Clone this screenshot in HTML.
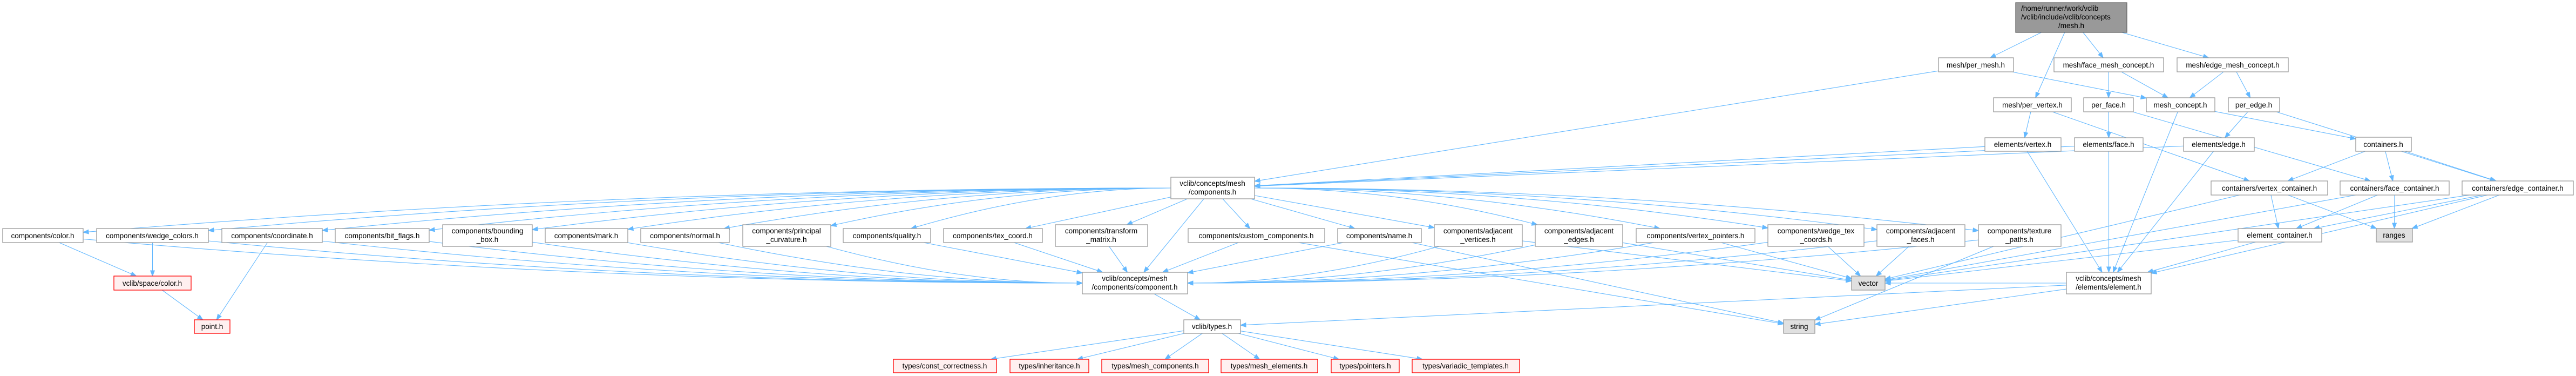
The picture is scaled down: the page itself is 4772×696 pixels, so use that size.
<!DOCTYPE html>
<html><head><meta charset="utf-8"><style>
html,body{margin:0;padding:0;background:#fff;}
svg{display:block;}
text{font-family:"Liberation Sans",sans-serif;font-size:13.5px;fill:#000;}
.n{fill:#fff;stroke:#999;stroke-width:1.3;}
.r{fill:#fff0f0;stroke:#f00;stroke-width:1.3;}
.g{fill:#e0e0e0;stroke:#999;stroke-width:1.3;}
.t{fill:#999;stroke:#666;stroke-width:1.3;}
</style></head><body>
<svg id="s" width="4772" height="696" viewBox="0 0 4772 696" xmlns="http://www.w3.org/2000/svg">
<g id="edges"></g>
<g text-anchor="middle">
<rect class="t" x="3734" y="5" width="206" height="55"/>
<text x="3744" y="20" text-anchor="start">/home/runner/work/vclib</text>
<text x="3744" y="36" text-anchor="start">/vclib/include/vclib/concepts</text>
<text x="3837" y="52">/mesh.h</text>

<rect class="n" x="3591" y="107" width="139" height="26"/><text x="3660" y="125">mesh/per_mesh.h</text>
<rect class="n" x="3805" y="107" width="203" height="26"/><text x="3906" y="125">mesh/face_mesh_concept.h</text>
<rect class="n" x="4033" y="107" width="206" height="26"/><text x="4136" y="125">mesh/edge_mesh_concept.h</text>
<rect class="n" x="3693" y="181" width="144" height="26"/><text x="3765" y="199">mesh/per_vertex.h</text>
<rect class="n" x="3860" y="181" width="92" height="26"/><text x="3906" y="199">per_face.h</text>
<rect class="n" x="3976" y="181" width="127" height="26"/><text x="4039" y="199">mesh_concept.h</text>
<rect class="n" x="4128" y="181" width="95" height="26"/><text x="4175" y="199">per_edge.h</text>
<rect class="n" x="3677" y="255" width="141" height="25"/><text x="3747" y="272">elements/vertex.h</text>
<rect class="n" x="3843" y="255" width="127" height="25"/><text x="3906" y="272">elements/face.h</text>
<rect class="n" x="4045" y="255" width="131" height="25"/><text x="4110" y="272">elements/edge.h</text>
<rect class="n" x="4364" y="254" width="103" height="26"/><text x="4415" y="272">containers.h</text>
<rect class="n" x="4096" y="335" width="216" height="26"/><text x="4204" y="353">containers/vertex_container.h</text>
<rect class="n" x="4335" y="335" width="202" height="26"/><text x="4436" y="353">containers/face_container.h</text>
<rect class="n" x="4561" y="335" width="206" height="26"/><text x="4664" y="353">containers/edge_container.h</text>
<rect class="n" x="4146" y="423" width="155" height="25"/><text x="4223" y="440">element_container.h</text>
<rect class="g" x="4402" y="423" width="67" height="25"/><text x="4435" y="440">ranges</text>
<rect class="n" x="3828" y="504" width="157" height="40"/><text x="3906" y="520">vclib/concepts/mesh</text><text x="3906" y="536">/elements/element.h</text>
<rect class="g" x="3430" y="511" width="62" height="26"/><text x="3461" y="529">vector</text>
<rect class="g" x="3304" y="592" width="58" height="25"/><text x="3333" y="609">string</text>
<rect class="n" x="2169" y="328" width="155" height="40"/><text x="2246" y="344">vclib/concepts/mesh</text><text x="2246" y="360">/components.h</text>
<rect class="n" x="2005" y="504" width="195" height="40"/><text x="2102" y="520">vclib/concepts/mesh</text><text x="2102" y="536">/components/component.h</text>
<rect class="n" x="2193" y="592" width="105" height="25"/><text x="2245" y="609">vclib/types.h</text>

<rect class="r" x="1655" y="665" width="191" height="25"/><text x="1750" y="682">types/const_correctness.h</text>
<rect class="r" x="1871" y="665" width="146" height="25"/><text x="1944" y="682">types/inheritance.h</text>
<rect class="r" x="2041" y="665" width="198" height="25"/><text x="2140" y="682">types/mesh_components.h</text>
<rect class="r" x="2262" y="665" width="179" height="25"/><text x="2351" y="682">types/mesh_elements.h</text>
<rect class="r" x="2466" y="665" width="126" height="25"/><text x="2529" y="682">types/pointers.h</text>
<rect class="r" x="2616" y="665" width="199" height="25"/><text x="2715" y="682">types/variadic_templates.h</text>
<rect class="r" x="211" y="511" width="143" height="26"/><text x="282" y="529">vclib/space/color.h</text>
<rect class="r" x="360" y="592" width="66" height="25"/><text x="393" y="609">point.h</text>

<rect class="n" x="5" y="423" width="149" height="26"/><text x="79" y="441">components/color.h</text>
<rect class="n" x="179" y="423" width="207" height="26"/><text x="282" y="441">components/wedge_colors.h</text>
<rect class="n" x="411" y="423" width="186" height="26"/><text x="504" y="441">components/coordinate.h</text>
<rect class="n" x="621" y="423" width="174" height="26"/><text x="708" y="441">components/bit_flags.h</text>
<rect class="n" x="820" y="416" width="166" height="40"/><text x="903" y="432">components/bounding</text><text x="903" y="448">_box.h</text>
<rect class="n" x="1010" y="423" width="153" height="26"/><text x="1086" y="441">components/mark.h</text>
<rect class="n" x="1187" y="423" width="164" height="26"/><text x="1269" y="441">components/normal.h</text>
<rect class="n" x="1376" y="416" width="163" height="40"/><text x="1457" y="432">components/principal</text><text x="1457" y="448">_curvature.h</text>
<rect class="n" x="1562" y="423" width="162" height="26"/><text x="1643" y="441">components/quality.h</text>
<rect class="n" x="1748" y="423" width="183" height="26"/><text x="1839" y="441">components/tex_coord.h</text>
<rect class="n" x="1955" y="416" width="171" height="40"/><text x="2040" y="432">components/transform</text><text x="2040" y="448">_matrix.h</text>
<rect class="n" x="2201" y="423" width="253" height="26"/><text x="2327" y="441">components/custom_components.h</text>
<rect class="n" x="2478" y="423" width="155" height="26"/><text x="2555" y="441">components/name.h</text>
<rect class="n" x="2657" y="416" width="163" height="40"/><text x="2738" y="432">components/adjacent</text><text x="2738" y="448">_vertices.h</text>
<rect class="n" x="2844" y="416" width="162" height="40"/><text x="2925" y="432">components/adjacent</text><text x="2925" y="448">_edges.h</text>
<rect class="n" x="3031" y="423" width="220" height="26"/><text x="3141" y="441">components/vertex_pointers.h</text>
<rect class="n" x="3275" y="416" width="178" height="40"/><text x="3364" y="432">components/wedge_tex</text><text x="3364" y="448">_coords.h</text>
<rect class="n" x="3477" y="416" width="163" height="40"/><text x="3558" y="432">components/adjacent</text><text x="3558" y="448">_faces.h</text>
<rect class="n" x="3665" y="416" width="153" height="40"/><text x="3741" y="432">components/texture</text><text x="3741" y="448">_paths.h</text>
</g>
</svg>
<script>
var N={top:[3734,5,3940,60],per_mesh:[3591,107,3730,133],face_mesh:[3805,107,4008,133],edge_mesh:[4033,107,4239,133],
per_vertex:[3693,181,3837,207],per_face:[3860,181,3952,207],mesh_concept:[3976,181,4103,207],per_edge:[4128,181,4223,207],
el_vertex:[3677,255,3818,280],el_face:[3843,255,3970,280],el_edge:[4045,255,4176,280],containers:[4364,254,4467,280],
vcont:[4096,335,4312,361],fcont:[4335,335,4537,361],econt:[4561,335,4767,361],elcont:[4146,423,4301,448],ranges:[4402,423,4469,448],
element:[3828,504,3985,544],vector:[3430,511,3492,537],string:[3304,592,3362,617],comps:[2169,328,2324,368],component:[2005,504,2200,544],
types:[2193,592,2298,617],t1:[1655,665,1846,690],t2:[1871,665,2017,690],t3:[2041,665,2239,690],t4:[2262,665,2441,690],t5:[2466,665,2592,690],t6:[2616,665,2815,690],
scolor:[211,511,354,537],point:[360,592,426,617],
color:[5,423,154,449],wcolors:[179,423,386,449],coord:[411,423,597,449],bitf:[621,423,795,449],bbox:[820,416,986,456],mark:[1010,423,1163,449],
normal:[1187,423,1351,449],princ:[1376,416,1539,456],quality:[1562,423,1724,449],texc:[1748,423,1931,449],transf:[1955,416,2126,456],
custom:[2201,423,2454,449],name:[2478,423,2633,449],adjv:[2657,416,2820,456],adje:[2844,416,3006,456],vptr:[3031,423,3251,449],
wtex:[3275,416,3453,456],adjf:[3477,416,3640,456],texp:[3665,416,3818,456]};
function c(n){return[(n[0]+n[2])/2,(n[1]+n[3])/2];}
function clip(n,px,py){var C=c(n),dx=px-C[0],dy=py-C[1],hw=(n[2]-n[0])/2,hh=(n[3]-n[1])/2;
var t=Math.min(dx?hw/Math.abs(dx):1e9,dy?hh/Math.abs(dy):1e9);return[C[0]+dx*t,C[1]+dy*t];}
var out="",col="#63b8ff";
function E(a,b,mode){var A=N[a],B=N[b],ca=c(A),cb=c(B),ctrl=null,s,e,d;
if(mode===undefined){mode=0;}
if(mode==1)ctrl=[(ca[0]+cb[0])/2,ca[1]];else if(mode==2)ctrl=[(ca[0]+cb[0])/2,cb[1]];
if(ctrl){s=clip(A,ctrl[0],ctrl[1]);e=clip(B,ctrl[0],ctrl[1]);d=[e[0]-ctrl[0],e[1]-ctrl[1]];}
else{s=clip(A,cb[0],cb[1]);e=clip(B,ca[0],ca[1]);d=[e[0]-s[0],e[1]-s[1]];}
var L=Math.sqrt(d[0]*d[0]+d[1]*d[1]),ux=d[0]/L,uy=d[1]/L,al=10,aw=3.8;
var bx=e[0]-ux*al,by=e[1]-uy*al;
if(ctrl)out+='<path d="M'+s[0]+','+s[1]+' Q'+ctrl[0]+','+ctrl[1]+' '+bx+','+by+'" fill="none" stroke="'+col+'" stroke-width="1.1"/>';
else out+='<path d="M'+s[0]+','+s[1]+' L'+bx+','+by+'" fill="none" stroke="'+col+'" stroke-width="1.1"/>';
out+='<polygon points="'+e[0]+','+e[1]+' '+(bx-uy*aw)+','+(by+ux*aw)+' '+(bx+uy*aw)+','+(by-ux*aw)+'" fill="'+col+'" stroke="'+col+'"/>';}
E('top','per_mesh');E('top','face_mesh');E('top','edge_mesh');E('top','per_vertex');
E('per_mesh','comps');E('per_mesh','mesh_concept');
E('face_mesh','per_face');E('face_mesh','mesh_concept');
E('edge_mesh','mesh_concept');E('edge_mesh','per_edge');
E('per_vertex','el_vertex');E('per_vertex','vcont');
E('per_face','el_face');E('per_face','fcont');
E('mesh_concept','element');E('mesh_concept','containers');
E('per_edge','el_edge');E('per_edge','econt');
E('el_vertex','comps');E('el_vertex','element');E('el_face','comps');E('el_face','element');E('el_edge','comps');E('el_edge','element');
E('containers','vcont');E('containers','fcont');E('containers','econt');
['vcont','fcont','econt'].forEach(function(k){E(k,'elcont');E(k,'ranges');E(k,'vector');});
E('econt','element');E('elcont','element');E('elcont','vector');
E('element','vector');E('element','string');E('element','types');
var comps=['color','wcolors','coord','bitf','bbox','mark','normal','princ','quality','texc','transf','custom','name','adjv','adje','vptr','wtex','adjf','texp'];
comps.forEach(function(k){var dx=Math.abs(c(N[k])[0]-c(N.comps)[0]);E('comps',k,dx>500?1:0);});
E('comps','component');
comps.forEach(function(k){var dx=Math.abs(c(N[k])[0]-c(N.component)[0]);E(k,'component',dx>500?2:0);});
['adjv','adje','vptr','wtex','adjf'].forEach(function(k){E(k,'vector');});
['custom','name','texp'].forEach(function(k){E(k,'string');});
E('color','scolor');E('wcolors','scolor');E('coord','point');E('scolor','point');
E('component','types');
['t1','t2','t3','t4','t5','t6'].forEach(function(k){E('types',k);});
document.getElementById('edges').innerHTML=out;
</script>
</body></html>
